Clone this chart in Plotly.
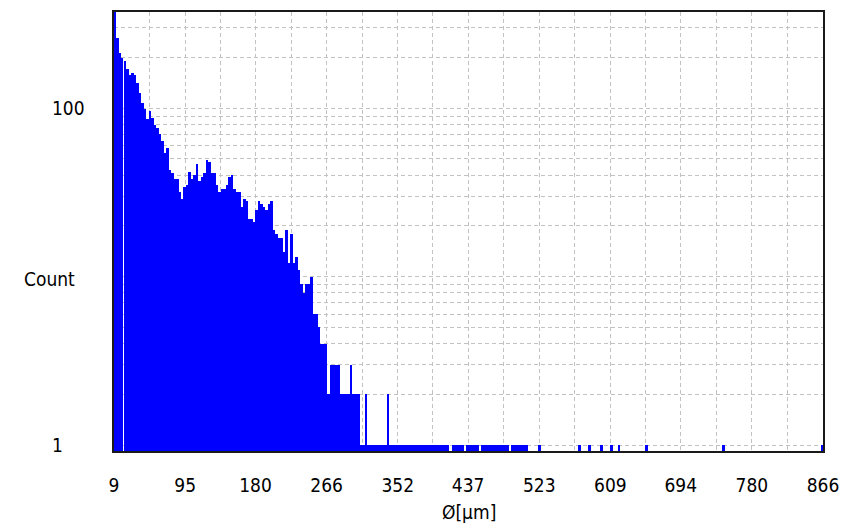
import math
import plotly.graph_objects as go

# Particle-size histogram: 3 µm bins starting at 9 µm
bin_start_um = 9.0
bin_width_um = 3.0

# counts for bins 0..109
counts_head = [
    420, 260, 212, 198, 192, 171, 157, 161, 158, 141,
    123, 107, 99, 86, 97, 88, 80, 76, 70, 64,
    54, 58, 43, 41, 38, 38, 32, 29, 34, 35,
    42, 38, 40, 47, 37, 39, 41, 49, 48, 41,
    41, 35, 32, 33, 33, 35, 39, 40, 33, 32,
    32, 26, 29, 28, 22, 22, 21, 25, 28, 27,
    26, 25, 27, 28, 19, 18, 17, 17, 14, 19,
    12, 18, 12, 13, 11, 9, 8, 9, 9, 10,
    6, 6, 5, 4, 4, 4, 2, 3, 3, 3,
    3, 2, 2, 2, 2, 3, 2, 2, 2, 1,
    1, 2, 1, 1, 1, 1, 1, 1, 1, 1,
]

# counts for bins 110..285 (sparse large-particle tail)
counts_tail = [
    2, 1, 1, 1, 1, 1, 1, 1, 1, 1,
    1, 1, 1, 1, 1, 1, 1, 1, 1, 1,
    1, 1, 1, 1, 1, 0, 1, 1, 1, 1,
    1, 0, 1, 1, 1, 1, 1, 0, 1, 1,
    1, 1, 1, 1, 1, 1, 1, 1, 1, 0,
    1, 1, 1, 1, 1, 1, 1, 0, 0, 0,
    0, 1, 0, 0, 0, 0, 0, 0, 0, 0,
    0, 0, 0, 0, 0, 0, 0, 1, 0, 0,
    0, 1, 0, 0, 0, 0, 1, 0, 0, 0,
    1, 0, 0, 1, 0, 0, 0, 0, 0, 0,
    0, 0, 0, 0, 1, 0, 0, 0, 0, 0,
    0, 0, 0, 0, 0, 0, 0, 0, 0, 0,
    0, 0, 0, 0, 0, 0, 0, 0, 0, 0,
    0, 0, 0, 0, 0, 1, 0, 0, 0, 0,
    0, 0, 0, 0, 0, 0, 0, 0, 0, 0,
    0, 0, 0, 0, 0, 0, 0, 0, 0, 0,
    0, 0, 0, 0, 0, 0, 0, 0, 0, 0,
    0, 0, 0, 0, 0, 1,
]

x_tick_labels = ["9", "95", "180", "266", "352", "437", "523", "609", "694", "780", "866"]
y_tick_labels = ["1", "100"]
y_minor_grid = [2, 3, 4, 5, 6, 7, 8, 9, 10, 20, 30, 40, 50, 60, 70, 80, 90, 200, 300]

# bins drawn slightly narrower than the bin width (hairline gap after them)
narrow_bins = {3: 2.2}

counts = counts_head + counts_tail
lefts, heights, widths = [], [], []
for i, c in enumerate(counts):
    if c <= 0:
        continue
    lefts.append(bin_start_um + i * bin_width_um)
    heights.append(c)
    widths.append(narrow_bins.get(i, bin_width_um))

x_ticks = [float(t) for t in x_tick_labels]
x_minor = [(a + b) / 2 for a, b in zip(x_ticks[:-1], x_ticks[1:])]

FONT = "Liberation Sans Narrow, DejaVu Sans Condensed, Liberation Sans, Arial, sans-serif"
FS = 19
GRID = "#c2c2c2"
DASH = "4px,3px"

fig = go.Figure(
    go.Bar(
        x=lefts,
        y=heights,
        width=widths,
        offset=0,
        marker=dict(color="#0000FF", line=dict(width=0)),
        hoverinfo="skip",
    )
)

fig.update_layout(
    width=854,
    height=526,
    margin=dict(l=114, r=31, t=10, b=75),
    paper_bgcolor="white",
    plot_bgcolor="white",
    showlegend=False,
    bargap=0,
    font=dict(family=FONT, size=FS, color="black"),
)

fig.update_xaxes(
    range=[x_ticks[0], x_ticks[-1]],
    tickmode="array",
    tickvals=x_ticks,
    ticktext=x_tick_labels,
    ticks="",
    ticklabelstandoff=16,
    tickfont=dict(family=FONT, size=FS, color="black"),
    showgrid=True,
    gridcolor=GRID,
    gridwidth=1,
    griddash=DASH,
    minor=dict(tickvals=x_minor, showgrid=True, gridcolor=GRID, gridwidth=1, griddash=DASH, ticks=""),
    showline=True,
    mirror=True,
    linecolor="#1a1a1a",
    linewidth=2,
    zeroline=False,
    layer="below traces",
)

fig.update_yaxes(
    type="log",
    range=[-0.0355, 2.572],
    tickmode="array",
    tickvals=[float(t) for t in y_tick_labels],
    showticklabels=False,
    ticks="",
    showgrid=True,
    gridcolor=GRID,
    gridwidth=1,
    griddash=DASH,
    minor=dict(tickvals=y_minor_grid, showgrid=True, gridcolor=GRID, gridwidth=1, griddash=DASH, ticks=""),
    showline=True,
    mirror=True,
    linecolor="#1a1a1a",
    linewidth=2,
    zeroline=False,
    layer="below traces",
)

annotations = []
for lab in y_tick_labels:
    annotations.append(dict(
        x=-0.0902, y=math.log10(float(lab)), xref="paper", yref="y",
        text=lab, showarrow=False, xanchor="left", yanchor="middle",
        font=dict(family=FONT, size=FS, color="black"),
    ))
annotations.append(dict(
    x=-0.1297, y=0.392, xref="paper", yref="paper", text="Count",
    showarrow=False, xanchor="left", yanchor="middle",
    font=dict(family=FONT, size=FS, color="black"),
))
annotations.append(dict(
    x=0.5, y=-0.138, xref="paper", yref="paper", text="Ø[µm]",
    showarrow=False, xanchor="center", yanchor="middle",
    font=dict(family=FONT, size=FS, color="black"),
))
fig.update_layout(annotations=annotations)

fig.write_html("out.html")
